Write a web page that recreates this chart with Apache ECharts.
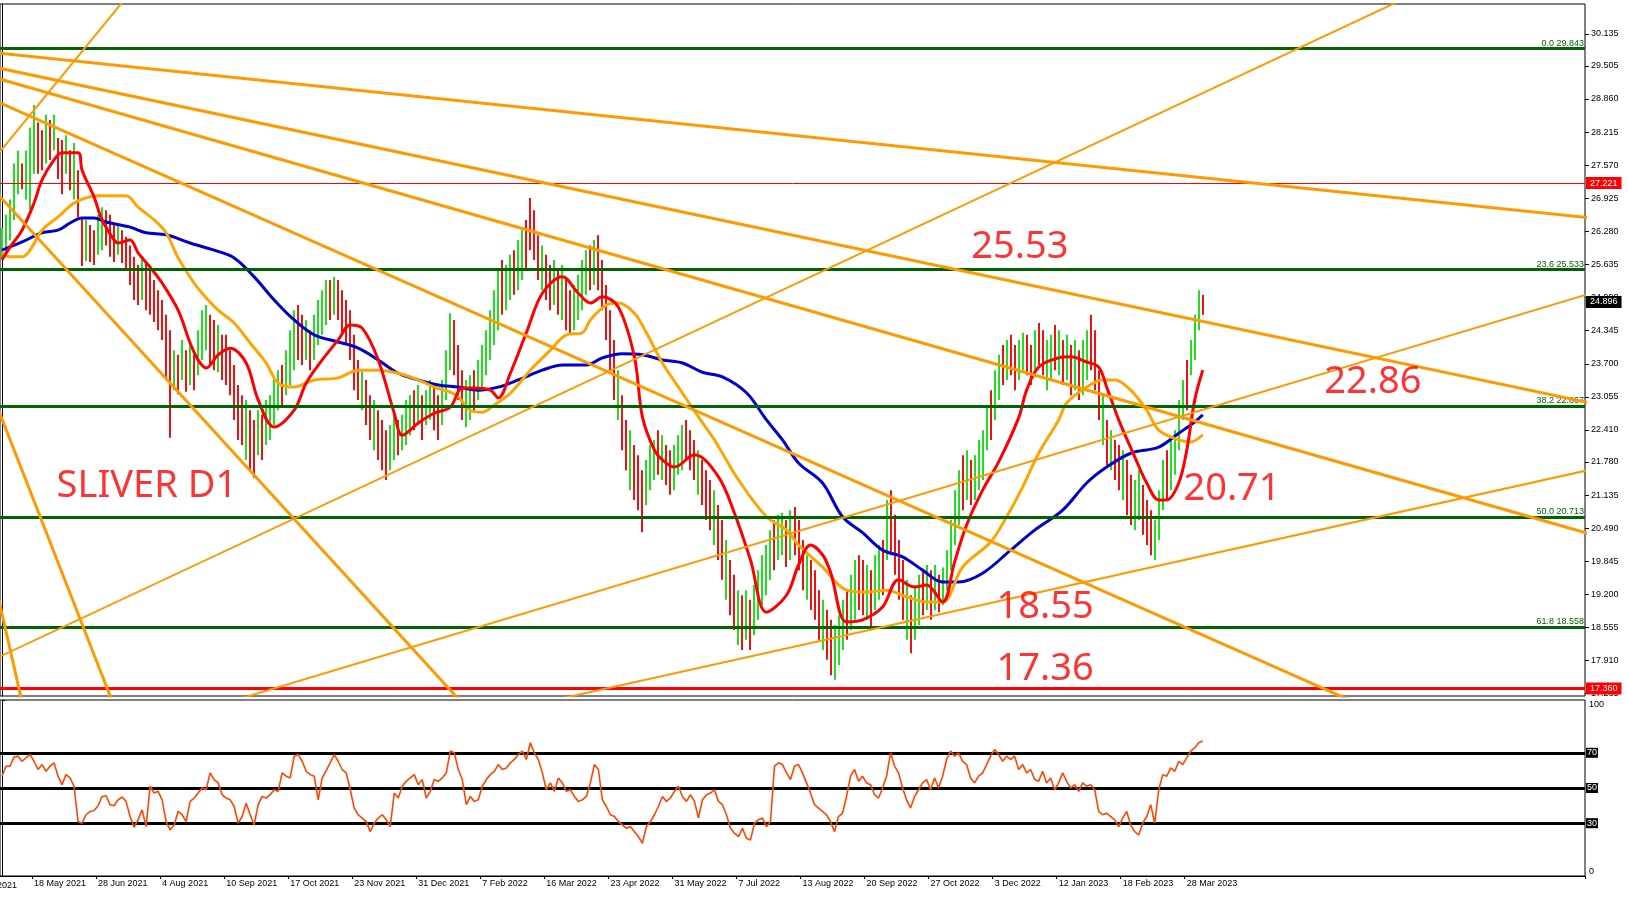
<!DOCTYPE html>
<html><head><meta charset="utf-8">
<script src="https://cdn.jsdelivr.net/npm/echarts@6/dist/echarts.min.js"></script>
<style>html,body{margin:0;padding:0;background:#fff}#c{width:1628px;height:899px}</style>
</head><body><div id="c"></div>
<script>
// ---------------- DATA ----------------
const dateLabels = ['18 May 2021','28 Jun 2021','4 Aug 2021','10 Sep 2021','17 Oct 2021','23 Nov 2021','31 Dec 2021','7 Feb 2022','16 Mar 2022','23 Apr 2022','31 May 2022','7 Jul 2022','13 Aug 2022','20 Sep 2022','27 Oct 2022','3 Dec 2022','12 Jan 2023','18 Feb 2023','28 Mar 2023'];
const clippedFirstDateLabel = '9 Apr 2021';
const priceTickLabels = ['30.135','29.505','28.860','28.215','27.570','26.925','26.280','25.635','24.990','24.345','23.700','23.055','22.410','21.780','21.135','20.490','19.845','19.200','18.555','17.910','17.265'];

const barLow = [
25.75,25.8,26.1,26.5,27.0,27.1,26.9,26.7,27.4,27.4,
27.47,27.6,27.67,27.86,27.3,27.0,27.4,27.08,26.9,26.55,
25.6,25.7,25.68,25.62,25.82,25.91,26.0,25.78,25.68,25.82,
25.66,25.52,25.23,24.94,24.84,24.94,24.74,24.65,24.51,24.35,
24.16,23.38,22.25,23.18,23.1,23.38,23.15,23.28,23.18,23.47,
23.77,23.96,23.67,23.57,23.53,23.38,23.28,23.08,22.6,22.21,
22.11,21.82,21.62,21.47,21.91,21.82,22.11,22.21,22.5,22.79,
22.89,23.08,23.28,23.57,23.77,23.67,23.77,23.57,23.77,24.06,
24.26,24.45,24.55,24.65,24.55,24.26,24.06,23.77,23.18,22.99,
22.79,22.5,22.21,22.01,21.82,21.62,21.43,21.62,21.82,21.91,
22.01,22.11,22.3,22.4,22.5,22.21,22.5,22.6,22.4,22.21,
22.5,22.99,23.57,23.47,22.99,22.6,22.46,22.6,22.79,22.99,
23.18,23.47,23.77,24.06,24.35,24.65,24.74,24.94,25.04,25.13,
25.33,25.52,25.91,25.72,25.33,25.13,24.94,24.74,24.84,24.65,
24.55,24.35,24.26,24.35,24.55,24.74,25.04,25.13,25.23,25.13,
24.74,24.16,23.57,22.99,22.6,22.01,21.62,21.23,21.04,20.84,
20.41,20.94,21.23,21.43,21.53,21.43,21.33,21.14,21.23,21.53,
21.62,21.82,21.62,21.43,21.14,20.94,20.65,20.45,20.16,19.87,
19.48,19.09,18.79,18.5,18.21,18.11,18.31,18.11,18.4,18.7,
18.99,19.18,19.48,19.67,19.87,19.96,19.73,19.87,19.96,19.67,
19.28,19.09,18.89,18.7,18.31,18.11,17.92,17.62,17.53,17.82,
18.11,18.31,18.5,18.7,18.89,18.79,18.7,18.5,18.89,19.09,
19.18,19.87,19.96,19.58,19.09,18.7,18.31,18.05,18.31,18.6,
18.79,18.89,18.7,18.89,18.85,18.99,19.28,19.67,20.16,20.55,
20.84,21.04,20.94,21.04,21.23,21.43,22.01,22.21,22.6,22.99,
23.28,23.38,23.47,23.18,23.38,23.57,23.47,23.28,23.57,23.67,
23.47,23.18,23.38,23.57,23.47,23.28,23.38,23.08,23.18,22.99,
23.08,23.38,23.57,23.18,22.6,22.11,21.72,21.62,21.43,21.23,
21.04,20.74,20.55,20.45,20.65,20.36,20.16,19.96,19.87,20.26,
20.84,21.04,21.23,21.53,22.01,22.6,22.79,23.47,23.77,24.35,
24.65];
const barHigh = [
26.35,26.6,26.9,27.6,27.85,27.6,27.85,28.3,28.74,28.4,
28.25,28.55,28.45,28.55,28.1,28.06,28.15,27.86,28.0,27.47,
26.55,26.5,26.4,26.3,26.6,26.75,26.69,26.6,26.4,26.44,
26.3,26.17,26.0,25.78,25.62,25.76,25.68,25.52,25.33,25.13,
24.94,24.65,24.35,23.96,23.87,24.16,23.96,24.06,23.87,24.35,
24.74,24.84,24.65,24.55,24.45,24.26,24.26,23.96,23.67,23.28,
23.08,22.99,22.79,22.6,22.79,22.7,22.99,23.08,23.38,23.57,
23.67,23.96,24.35,24.74,24.84,24.65,24.55,24.35,24.65,24.94,
25.13,25.33,25.33,25.39,25.33,25.13,24.94,24.74,24.26,23.77,
23.57,23.38,23.08,22.99,22.79,22.6,22.4,22.5,22.7,22.6,
22.7,22.99,23.08,23.18,23.28,23.08,23.18,23.38,23.28,23.08,
23.38,23.96,24.68,24.55,24.06,23.57,23.38,23.47,23.57,23.77,
24.06,24.35,24.74,25.13,25.52,25.72,25.62,25.82,25.91,26.11,
26.3,26.5,26.93,26.69,26.2,26.0,25.82,25.62,25.72,25.52,
25.62,25.33,25.13,25.23,25.43,25.72,25.91,26.0,26.11,26.2,
25.72,25.23,24.74,24.16,23.57,23.08,22.6,22.4,22.11,21.91,
21.62,21.82,22.11,22.21,22.4,22.3,22.11,22.01,22.11,22.3,
22.5,22.6,22.4,22.21,22.01,21.82,21.62,21.43,21.23,20.94,
20.65,20.26,19.87,19.58,19.28,19.18,19.28,19.09,19.38,19.67,
19.96,20.16,20.45,20.65,20.75,20.79,20.65,20.84,20.9,20.65,
20.26,19.96,19.87,19.67,19.28,19.09,18.89,18.7,18.6,18.79,
19.09,19.28,19.58,19.87,19.96,19.87,19.77,19.67,19.96,20.16,
20.26,21.04,21.23,20.75,20.26,19.87,19.48,19.18,19.38,19.58,
19.67,19.77,19.67,19.77,19.58,19.72,20.06,20.65,21.23,21.62,
21.91,22.01,21.82,21.91,22.21,22.4,22.89,23.18,23.57,23.87,
24.06,24.16,24.26,24.06,24.16,24.3,24.26,24.06,24.35,24.49,
24.35,24.16,24.26,24.45,24.35,24.16,24.26,24.06,24.16,23.96,
24.16,24.35,24.65,24.35,23.57,23.08,22.6,22.4,22.21,22.11,
22.01,21.82,21.53,21.43,21.62,21.33,21.04,20.84,20.65,21.23,
21.82,22.01,22.21,22.4,22.99,23.38,23.77,24.16,24.65,25.13,
25.04];
const barUp = [
1,1,1,1,1,0,1,1,1,0, 0,1,0,1,0,0,1,0,1,0, 0,1,0,0,1,1,0,0,0,1, 0,0,0,0,0,1,0,0,0,0,
0,0,0,1,0,1,0,1,0,1, 1,1,0,0,1,0,0,0,0,0, 0,1,0,0,1,0,1,1,1,1, 0,1,1,1,0,0,1,0,1,1,
1,1,0,1,0,0,0,0,0,0, 1,0,0,1,0,0,0,1,1,0, 1,1,1,0,1,0,1,1,0,0, 1,1,1,0,0,0,1,1,0,1,
1,1,1,1,1,0,1,1,0,1, 1,0,0,0,0,1,0,0,1,0, 1,0,0,1,1,1,1,0,1,0, 0,0,0,0,1,0,0,1,0,0,
0,1,1,1,0,1,0,0,1,1, 1,0,0,0,1,0,0,0,1,0, 0,1,0,0,1,0,1,0,1,1, 1,1,1,0,1,1,0,1,0,0,
0,1,0,0,0,1,0,0,1,1, 1,0,1,1,0,0,1,0,1,1, 0,1,0,0,0,0,1,0,1,1, 0,1,0,1,0,1,1,1,1,1,
0,1,0,1,1,1,1,0,1,1, 0,1,0,0,1,1,0,0,1,0, 0,1,1,0,1,0,1,0,1,0, 1,1,0,0,0,1,0,1,0,0,
1,0,0,1,1,0,0,0,1,1, 1,0,1,1,1,1,0,1,1,1, 0];
const lastPrice = 24.896;

const maSlow = [[0,25.91],[5,26.07],[10,26.25],[14,26.30],[17,26.44],[20,26.54],[23,26.54],[26,26.46],[32,26.36],[36,26.25],[41,26.21],[47,26.05],[53,25.91],[58,25.76],[63,25.39],[68,24.94],[73,24.55],[78,24.26],[84,24.12],[89,24.00],[94,23.77],[99,23.51],[104,23.38],[109,23.28],[114,23.24],[119,23.18],[124,23.24],[129,23.38],[135,23.57],[140,23.67],[146,23.67],[150,23.81],[155,23.89],[160,23.87],[165,23.77],[170,23.71],[175,23.53],[180,23.44],[186,23.13],[191,22.60],[195,22.21],[199,21.76],[205,21.37],[210,20.71],[215,20.40],[220,20.06],[225,19.93],[230,19.67],[235,19.44],[239,19.44],[245,19.61],[252,20.06],[258,20.45],[265,20.84],[271,21.37],[276,21.68],[282,21.95],[289,22.07],[294,22.34],[298,22.56],[300,22.70]];
const maMid = [[0,25.86],[2,25.78],[5,25.78],[7,25.91],[10,26.30],[14,26.56],[18,26.83],[21,26.93],[24,26.97],[31,26.97],[34,26.75],[38,26.50],[41,26.25],[44,25.76],[48,25.27],[50,25.07],[54,24.74],[58,24.49],[62,24.10],[66,23.71],[69,23.32],[73,23.24],[78,23.38],[84,23.42],[89,23.57],[94,23.57],[99,23.51],[104,23.38],[108,23.24],[112,23.14],[114,23.05],[117,22.79],[120,22.75],[123,22.89],[127,23.12],[132,23.57],[137,23.96],[141,24.26],[145,24.30],[147,24.55],[151,24.84],[154,24.88],[158,24.68],[161,24.30],[165,23.71],[169,23.24],[174,22.66],[178,22.21],[180,21.95],[184,21.43],[191,20.71],[196,20.45],[199,20.16],[205,19.73],[211,19.28],[216,19.24],[221,19.28],[226,19.15],[231,19.05],[235,19.05],[240,19.73],[247,20.22],[251,20.71],[255,21.29],[259,21.95],[264,22.60],[266,22.93],[271,23.24],[275,23.38],[278,23.38],[282,23.18],[286,22.79],[289,22.40],[294,22.21],[297,22.17],[300,22.31]];
const maFast = [[0,25.72],[2,25.97],[5,26.30],[8,26.83],[10,27.28],[13,27.67],[15,27.81],[19,27.81],[20,27.47],[23,26.95],[25,26.50],[28,26.11],[29,26.05],[32,26.11],[34,25.86],[37,25.58],[40,25.27],[44,24.74],[47,24.10],[49,23.77],[51,23.61],[54,23.87],[57,24.00],[61,23.71],[64,22.99],[68,22.46],[73,22.79],[76,23.32],[80,23.77],[84,24.16],[87,24.45],[90,24.39],[94,23.77],[98,22.73],[100,22.30],[104,22.54],[108,22.73],[112,22.85],[115,23.22],[118,23.22],[122,23.18],[124,23.03],[127,23.51],[131,24.30],[135,25.07],[140,25.39],[144,25.07],[147,24.88],[150,25.00],[154,24.80],[158,23.83],[160,22.66],[163,22.01],[165,21.82],[168,21.68],[173,21.92],[179,21.49],[183,20.78],[187,19.87],[191,18.85],[196,19.18],[199,19.77],[202,20.16],[205,19.97],[207,19.63],[211,18.66],[215,18.70],[220,18.95],[224,19.48],[228,19.34],[231,19.38],[235,19.05],[238,19.83],[241,20.55],[245,21.23],[249,21.78],[254,22.64],[256,23.18],[259,23.63],[264,23.81],[267,23.83],[271,23.73],[274,23.63],[276,23.24],[279,22.60],[283,21.88],[286,21.37],[289,21.04],[291,21.04],[294,21.37],[296,22.01],[298,22.99],[300,23.57]];

const rsiValues = [
56.7,62.4,62.4,67.5,68.1,65.2,67.1,69.0,65.2,60.5,
63.3,59.5,62.4,64.3,56.7,51.9,57.6,55.7,51.0,30.9,
30.0,34.8,36.7,37.2,39.9,45.2,45.6,40.5,39.9,43.3,
44.9,42.4,33.8,27.7,31.9,37.6,28.1,51.0,47.1,48.1,
43.3,30.9,26.2,29.0,36.7,34.8,30.9,42.4,44.3,47.1,
50.0,49.0,58.6,54.8,52.9,46.2,44.3,43.3,39.5,30.0,
33.8,41.4,34.8,29.0,40.5,45.2,44.3,46.2,49.0,48.1,
58.6,56.7,55.7,68.1,69.0,65.2,59.5,57.6,56.7,43.3,
55.7,59.9,64.3,69.0,65.2,60.5,58.6,49.0,38.6,34.8,
32.9,30.9,25.2,30.0,32.9,34.8,31.9,28.1,47.1,44.3,
51.0,53.8,55.7,57.6,51.9,54.8,44.3,48.1,54.8,53.8,
55.7,58.6,71.0,70.0,60.5,54.8,40.5,45.2,42.4,43.3,
51.0,54.8,57.6,59.5,63.3,60.5,61.4,64.3,66.2,69.0,
71.0,66.2,75.7,70.0,66.2,58.6,49.0,52.9,48.1,55.7,
52.9,48.1,49.0,45.2,42.4,43.3,45.2,52.9,63.3,60.5,
43.3,39.5,34.8,33.8,30.9,29.0,27.1,28.1,25.2,22.4,
18.6,28.1,30.9,34.8,39.5,45.2,42.4,44.3,48.1,51.0,
45.2,42.4,46.2,42.4,32.9,43.3,46.2,47.1,49.0,42.4,
40.5,34.8,27.1,24.3,22.4,27.1,21.4,20.5,30.0,31.9,
32.9,28.1,30.9,62.4,64.3,63.3,58.6,54.8,62.4,63.3,
58.6,52.9,47.1,40.5,38.6,36.7,34.8,30.9,25.2,33.8,
35.7,45.2,56.7,60.5,53.8,56.7,52.9,51.9,46.2,44.3,
50.0,56.7,70.0,62.4,58.6,50.0,43.3,38.6,45.2,49.0,
52.9,54.8,49.0,55.7,50.0,56.7,66.2,71.0,68.1,70.0,
65.2,63.3,55.7,52.9,56.7,58.6,63.3,68.1,71.9,69.0,
65.2,68.1,66.2,68.1,60.5,63.3,58.6,60.5,54.8,53.8,
59.5,52.9,55.7,49.0,52.9,58.6,53.8,50.0,51.9,48.1,
52.9,51.0,51.9,49.0,36.7,34.8,35.7,33.8,31.9,28.1,
32.9,36.7,29.0,25.2,23.3,30.0,33.8,40.5,30.0,49.0,
57.6,56.7,61.4,59.5,65.2,63.3,67.1,71.0,72.9,75.7,
76.7];
const rsiLevels = [70, 50, 30];

const fibLevels = [['0.0', 29.843], ['23.6', 25.533], ['38.2', 22.867], ['50.0', 20.713], ['61.8', 18.558]];
const redLevelThin = 27.221;
const redLevelThick = 17.360;

// trend lines: [barIndex1, price1, barIndex2, price2]
const trendLinesThick = [
  [-10.5, 29.83, 405.5, 26.47],
  [-10.5, 29.62, 405.5, 22.79],
  [-10.5, 29.47, 405.5, 20.18],
  [-10.5, 29.13, 349.3, 16.70],
  [-10.5, 27.81, 124.4, 16.27],
  [-10.5, 24.72, 32.0, 16.22],
  [-10.5, 22.43, 9.5, 15.55]
];
const trendLinesThin = [
  [-10.5, 26.88, 34.5, 31.17],
  [-10.5, 17.62, 354.3, 30.96],
  [49.5, 16.93, 405.5, 25.27],
  [124.4, 16.90, 405.5, 21.78]
];

// text annotations: [barIndex, price, text]
const annotations = [
  [36.2, 21.31, 'SLIVER D1'],
  [254.3, 25.97, '25.53'],
  [342.5, 23.34, '22.86'],
  [307.3, 21.25, '20.71'],
  [260.6, 18.95, '18.55'],
  [260.6, 17.74, '17.36']
];

// ---------------- CHART ----------------
const SLOT_COUNT = 396, FIRST_LABEL_SLOT = 8, LABEL_STEP = 16;
const categories = Array.from({length: SLOT_COUNT}, (_, i) => {
  const k = (i - FIRST_LABEL_SLOT) / LABEL_STEP;
  return (Number.isInteger(k) && k >= 0 && k < dateLabels.length) ? dateLabels[k] : '';
});
const showCat = (i) => categories[i] !== '';
const FONT = '"Liberation Sans", Arial, sans-serif';
const ORANGE = '#ff9900';

const chart = echarts.init(document.getElementById('c'), null, {renderer: 'canvas'});

const trendSeries = [];
trendLinesThick.forEach(t => trendSeries.push({type:'line', xAxisIndex:0, yAxisIndex:0, data:[[t[0],t[1]],[t[2],t[3]]], symbol:'none', silent:true, z:6, clip:true, lineStyle:{color:ORANGE, width:3}}));
trendLinesThin.forEach(t => trendSeries.push({type:'line', xAxisIndex:0, yAxisIndex:0, data:[[t[0],t[1]],[t[2],t[3]]], symbol:'none', silent:true, z:6, clip:true, lineStyle:{color:ORANGE, width:2}}));

const boxLabel = (text, bg) => ({show:true, position:'end', distance:1, formatter:text, backgroundColor:bg, color:'#fff', fontSize:9, fontFamily:FONT, padding:[2,4,1,4], opacity:1});

const levelMarks = [];
fibLevels.forEach(([pct, v]) => levelMarks.push({yAxis:v, lineStyle:{color:'#006400', width:3, type:'solid'}, label:{show:true, position:'insideEndTop', distance:1, formatter: pct + ' ' + v.toFixed(3), color:'#006400', fontSize:9, fontFamily:FONT}}));
levelMarks.push({yAxis:redLevelThin, lineStyle:{color:'#ff0000', width:1, type:'solid'}, label: boxLabel(redLevelThin.toFixed(3), '#ff0000')});
levelMarks.push({yAxis:redLevelThick, lineStyle:{color:'#ff0000', width:3, type:'solid'}, label: boxLabel(redLevelThick.toFixed(3), '#ff0000')});
levelMarks.push({yAxis:lastPrice, lineStyle:{color:'rgba(0,0,0,0)', width:1, type:'solid'}, label: boxLabel(lastPrice.toFixed(3), '#000')});

const option = {
  animation: false,
  backgroundColor: '#ffffff',
  grid: [
    {left:-1, top:4, width:1586, height:692, show:true, borderColor:'#000', borderWidth:1, backgroundColor:'transparent'},
    {left:-1, top:700, width:1586, height:176, show:true, borderColor:'#000', borderWidth:1, backgroundColor:'transparent'}
  ],
  graphic: [
    {type:'text', x:-27, y:886, silent:true, style:{text:clippedFirstDateLabel, fill:'#000', font:'9px ' + FONT, align:'left', verticalAlign:'middle'}}
  ],
  xAxis: [
    {gridIndex:0, type:'value', min:-0.5, max:SLOT_COUNT-0.5, show:false},
    {gridIndex:1, type:'value', min:-0.5, max:SLOT_COUNT-0.5, show:false, position:'top'},
    {gridIndex:1, type:'category', data:categories, boundaryGap:true, position:'bottom',
     axisLine:{show:true, lineStyle:{color:'#000'}},
     axisTick:{show:true, interval:showCat, length:3, lineStyle:{color:'#000'}},
     axisLabel:{interval:showCat, align:'left', fontSize:9, fontFamily:FONT, color:'#000', margin:3},
     splitLine:{show:false}}
  ],
  yAxis: [
    {gridIndex:0, type:'value', position:'right', min:17.215, max:30.712, axisLine:{show:true, lineStyle:{color:'#000'}}, axisTick:{show:false}, axisLabel:{show:false}, splitLine:{show:false}},
    {gridIndex:1, type:'value', position:'right', min:0, max:100, interval:100,
     axisLine:{show:true, lineStyle:{color:'#000'}}, axisTick:{show:true, length:3, lineStyle:{color:'#000'}},
     axisLabel:{fontSize:9, fontFamily:FONT, color:'#000', margin:4, verticalAlignMinLabel:'bottom', verticalAlignMaxLabel:'top'},
     splitLine:{show:false}}
  ],
  series: [
    {
      name:'bars', type:'custom', xAxisIndex:0, yAxisIndex:0, z:2, silent:true,
      data: barLow.map((lo, i) => [i, lo, barHigh[i], barUp[i]]),
      encode: {x:0, y:[1,2]},
      renderItem: function (params, api) {
        const i = api.value(0);
        const p1 = api.coord([i, api.value(1)]);
        const p2 = api.coord([i, api.value(2)]);
        const x = Math.round(p1[0]);
        return {type:'line', shape:{x1:x, y1:p1[1], x2:x, y2:p2[1]},
                style:{stroke: api.value(3) ? '#22dd22' : '#ee1111', lineWidth:2}};
      }
    },
    {name:'maSlow', type:'line', xAxisIndex:0, yAxisIndex:0, data:maSlow, smooth:0.35, symbol:'none', silent:true, z:3,
     lineStyle:{color:'#0000cd', width:3},
     markLine:{silent:true, symbol:['none','none'], animation:false, z:5, data:levelMarks}},
    {name:'maMid', type:'line', xAxisIndex:0, yAxisIndex:0, data:maMid, smooth:0.35, symbol:'none', silent:true, z:3, lineStyle:{color:'#ffa500', width:3}},
    {name:'maFast', type:'line', xAxisIndex:0, yAxisIndex:0, data:maFast, smooth:0.35, symbol:'none', silent:true, z:3, lineStyle:{color:'#ff0000', width:3}},
    ...trendSeries,
    {
      name:'priceTicks', type:'custom', xAxisIndex:0, yAxisIndex:0, z:1, clip:false, silent:true,
      data: priceTickLabels.map(s => [0, parseFloat(s)]),
      renderItem: function (params, api) {
        const pt = api.coord([0, api.value(1)]);
        const cs = params.coordSys;
        const xr = cs.x + cs.width;
        const y = Math.round(pt[1]) + 0.5;
        return {type:'group', children:[
          {type:'line', shape:{x1:xr, y1:y, x2:xr+4, y2:y}, style:{stroke:'#000', lineWidth:1}},
          {type:'text', x:xr+6, y:pt[1], style:{text:priceTickLabels[params.dataIndex], fill:'#000', font:'9px ' + FONT, align:'left', verticalAlign:'middle'}}
        ]};
      }
    },
    {
      name:'notes', type:'scatter', xAxisIndex:0, yAxisIndex:0, z:10, silent:true, symbolSize:1,
      itemStyle:{color:'transparent'},
      data: annotations.map(a => ({value:[a[0], a[1]], label:{formatter:a[2]}})),
      label:{show:true, position:'inside', color:'#ff0000', fontSize:38, fontFamily:'"Noto Sans", "Open Sans", sans-serif'}
    },
    {
      name:'RSI', type:'line', xAxisIndex:1, yAxisIndex:1, data: rsiValues.map((v, i) => [i, v]),
      symbol:'none', silent:true, z:4, lineStyle:{color:'#ff4500', width:1.6},
      markLine:{silent:true, symbol:['none','none'], animation:false, z:3,
        data: rsiLevels.map(v => ({yAxis:v, lineStyle:{color:'#000', width:3, type:'solid'},
          label:{show:true, position:'end', distance:1, formatter:String(v), backgroundColor:'#000', color:'#fff', fontSize:9, fontFamily:FONT, padding:[1,1,0,1]}}))}
    }
  ]
};
chart.setOption(option);
</script></body></html>
